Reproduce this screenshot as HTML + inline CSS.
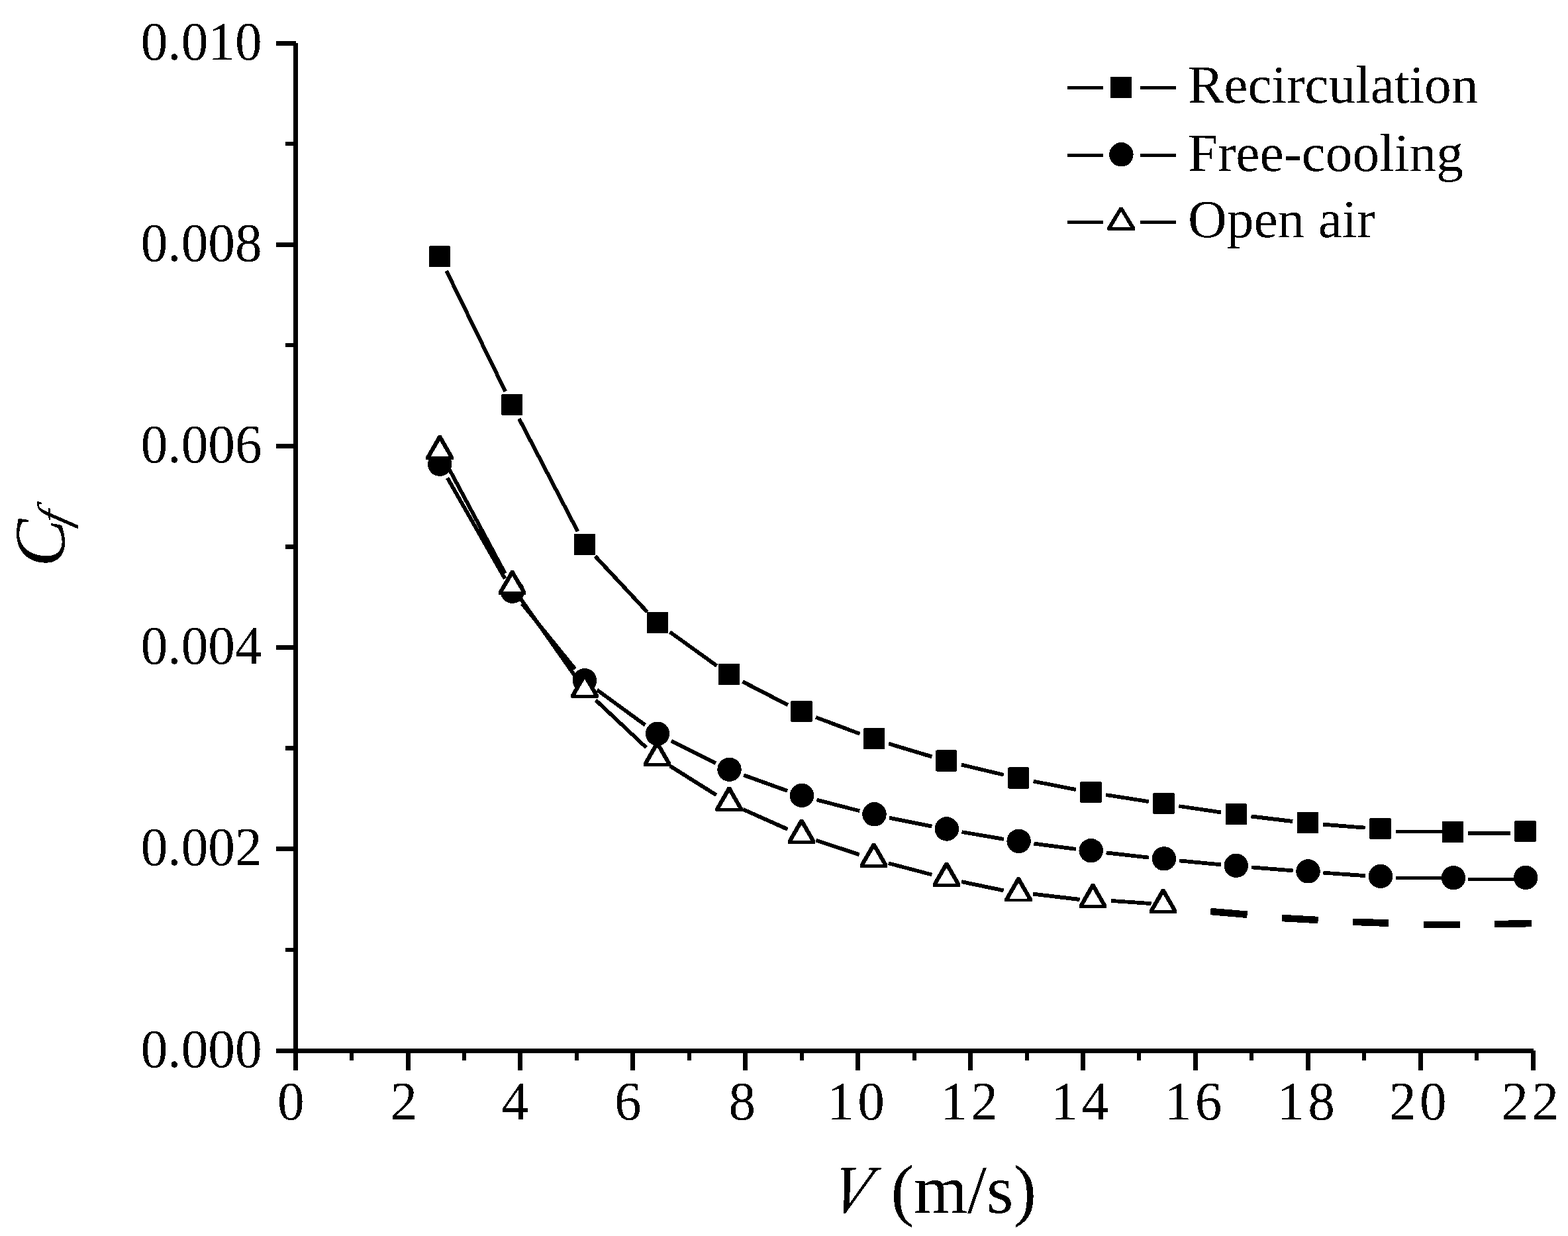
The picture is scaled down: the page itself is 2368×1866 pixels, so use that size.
<!DOCTYPE html>
<html lang="en"><head><meta charset="utf-8"><title>Cf versus V</title>
<style>
html,body{margin:0;padding:0;background:#fff;}
body{width:2368px;height:1866px;overflow:hidden;}
svg{display:block;}
text{font-family:"Liberation Serif","Times New Roman",serif;fill:#000;}
.tk{font-size:81.3px;}
.xl{letter-spacing:5.5px;}
.lg{font-size:81.4px;}
.tt{font-size:104px;}
.it{font-style:italic;}
</style></head><body>
<svg width="2368" height="1866" viewBox="0 0 2368 1866">
<defs><filter id="bw" filterUnits="userSpaceOnUse" x="0" y="0" width="2368" height="1866" color-interpolation-filters="sRGB"><feComponentTransfer><feFuncR type="discrete" tableValues="0 1"/><feFuncG type="discrete" tableValues="0 1"/><feFuncB type="discrete" tableValues="0 1"/></feComponentTransfer></filter></defs>
<g filter="url(#bw)">
<rect x="0" y="0" width="2368" height="1866" fill="#fff"/>
<g fill="#000" shape-rendering="crispEdges">
<rect x="443.3" y="65" width="6.8" height="1551"/>
<rect x="416.8" y="1583" width="1899" height="7"/>
<rect x="430.8" y="1431" width="14" height="6"/>
<rect x="416.8" y="1278" width="30" height="7"/>
<rect x="430.8" y="1126" width="14" height="7"/>
<rect x="416.8" y="974" width="30" height="7"/>
<rect x="430.8" y="822" width="14" height="7"/>
<rect x="416.8" y="670" width="30" height="7"/>
<rect x="430.8" y="518" width="14" height="6"/>
<rect x="416.8" y="366" width="30" height="7"/>
<rect x="430.8" y="214" width="14" height="6"/>
<rect x="416.8" y="62" width="30" height="7"/>
<rect x="528" y="1586" width="6" height="14.7"/>
<rect x="613" y="1586" width="7" height="29.8"/>
<rect x="698" y="1586" width="6" height="14.7"/>
<rect x="782" y="1586" width="7" height="29.8"/>
<rect x="868" y="1586" width="6" height="14.7"/>
<rect x="952" y="1586" width="7" height="29.8"/>
<rect x="1038" y="1586" width="6" height="14.7"/>
<rect x="1122" y="1586" width="7" height="29.8"/>
<rect x="1208" y="1586" width="6" height="14.7"/>
<rect x="1292" y="1586" width="7" height="29.8"/>
<rect x="1378" y="1586" width="6" height="14.7"/>
<rect x="1462" y="1586" width="7" height="29.8"/>
<rect x="1548" y="1586" width="6" height="14.7"/>
<rect x="1632" y="1586" width="7" height="29.8"/>
<rect x="1717" y="1586" width="6" height="14.7"/>
<rect x="1802" y="1586" width="7" height="29.8"/>
<rect x="1887" y="1586" width="6" height="14.7"/>
<rect x="1972" y="1586" width="7" height="29.8"/>
<rect x="2057" y="1586" width="6" height="14.7"/>
<rect x="2142" y="1586" width="7" height="29.8"/>
<rect x="2227" y="1586" width="6" height="14.7"/>
<rect x="2312" y="1586" width="7" height="29.8"/>
</g>
<g class="tk">
<text transform="translate(395.6,1610.5) scale(1,1.022)" text-anchor="end">0.000</text>
<text transform="translate(395.6,1306.3) scale(1,1.022)" text-anchor="end">0.002</text>
<text transform="translate(395.6,1002.1) scale(1,1.022)" text-anchor="end">0.004</text>
<text transform="translate(395.6,697.9) scale(1,1.022)" text-anchor="end">0.006</text>
<text transform="translate(395.6,393.7) scale(1,1.022)" text-anchor="end">0.008</text>
<text transform="translate(395.6,89.5) scale(1,1.022)" text-anchor="end">0.010</text>
<text class="xl" transform="translate(418.9,1689.5) scale(1,1.022)">0</text>
<text class="xl" transform="translate(589.6,1689.5) scale(1,1.022)">2</text>
<text class="xl" transform="translate(757.5,1689.5) scale(1,1.022)">4</text>
<text class="xl" transform="translate(928.0,1689.5) scale(1,1.022)">6</text>
<text class="xl" transform="translate(1100.4,1689.5) scale(1,1.022)">8</text>
<text class="xl" transform="translate(1249.2,1689.5) scale(1,1.022)">10</text>
<text class="xl" transform="translate(1420.2,1689.5) scale(1,1.022)">12</text>
<text class="xl" transform="translate(1587.3,1689.5) scale(1,1.022)">14</text>
<text class="xl" transform="translate(1758.7,1689.5) scale(1,1.022)">16</text>
<text class="xl" transform="translate(1929.1,1689.5) scale(1,1.022)">18</text>
<text class="xl" transform="translate(2097.9,1689.5) scale(1,1.022)">20</text>
<text class="xl" transform="translate(2267.4,1689.5) scale(1,1.022)">22</text>
</g>
<text class="tt it" transform="translate(1250.5,1830.9) skewX(-12.7) scale(0.89,1)">V</text>
<text class="tt" x="1345.6" y="1830.9">(m/s)</text>
<text class="it" font-size="108" transform="translate(96.8,855.7) rotate(-90)">C</text>
<text class="it" font-size="68" transform="translate(103.8,795.7) rotate(-90) skewX(-15)">f</text>
<g>
<path d="M674.1 408.7 L763.2 591.0 M783.9 632.1 L872.4 802.2 M898.7 839.4 L977.3 923.8 M1011.6 954.1 L1082.5 1005.2 M1121.6 1029.2 L1190.0 1064.3 M1232.0 1082.9 L1298.6 1107.9 M1342.1 1122.7 L1407.4 1142.4 M1451.8 1154.5 L1515.7 1169.7 M1560.7 1179.5 L1624.9 1192.1 M1670.2 1200.0 L1734.8 1210.1 M1780.3 1217.0 L1843.9 1226.4 M1889.5 1232.5 L1952.3 1240.0 M1998.0 1244.6 L2061.6 1249.7" fill="none" stroke="#000" stroke-width="5.8"/><path d="M2108.0 1254.9 L2178.0 1255.4 M2217.0 1257.9 L2281.0 1257.9" fill="none" stroke="#000" stroke-width="5"/>
<rect x="648.0" y="371.3" width="32" height="32" rx="1.2" fill="#000"/>
<rect x="757.3" y="595.0" width="32" height="32" rx="1.2" fill="#000"/>
<rect x="867.0" y="805.9" width="32" height="32" rx="1.2" fill="#000"/>
<rect x="977.0" y="923.9" width="32" height="32" rx="1.2" fill="#000"/>
<rect x="1085.1" y="1002.0" width="32" height="32" rx="1.2" fill="#000"/>
<rect x="1194.5" y="1058.1" width="32" height="32" rx="1.2" fill="#000"/>
<rect x="1304.1" y="1099.3" width="32" height="32" rx="1.2" fill="#000"/>
<rect x="1413.4" y="1132.4" width="32" height="32" rx="1.2" fill="#000"/>
<rect x="1522.1" y="1158.4" width="32" height="32" rx="1.2" fill="#000"/>
<rect x="1631.5" y="1179.8" width="32" height="32" rx="1.2" fill="#000"/>
<rect x="1741.5" y="1196.9" width="32" height="32" rx="1.2" fill="#000"/>
<rect x="1850.7" y="1213.1" width="32" height="32" rx="1.2" fill="#000"/>
<rect x="1959.1" y="1226.0" width="32" height="32" rx="1.2" fill="#000"/>
<rect x="2068.5" y="1234.9" width="32" height="32" rx="1.2" fill="#000"/>
<rect x="2178.0" y="1240.0" width="32" height="32" rx="1.2" fill="#000"/>
<rect x="2287.5" y="1238.9" width="32" height="32" rx="1.2" fill="#000"/>
</g>
<g>
<path d="M675.6 721.5 L762.5 873.5 M788.4 911.4 L868.5 1010.0 M901.6 1041.5 L974.4 1094.7 M1013.6 1118.6 L1080.9 1152.2 M1123.2 1170.3 L1189.3 1193.9 M1233.3 1207.5 L1298.2 1224.2 M1343.0 1234.6 L1407.3 1247.6 M1452.5 1256.0 L1515.9 1266.8 M1561.4 1273.6 L1624.9 1281.9 M1670.6 1287.4 L1735.0 1294.6 M1780.8 1299.3 L1843.9 1305.3 M1889.7 1309.3 L1952.6 1314.3 M1998.4 1317.7 L2062.1 1322.1" fill="none" stroke="#000" stroke-width="5.8"/><path d="M2108.0 1325.4 L2178.0 1325.4 M2217.0 1327.4 L2287.0 1327.4" fill="none" stroke="#000" stroke-width="5"/>
<circle cx="664.2" cy="700.8" r="18.2" fill="#000"/>
<circle cx="773.9" cy="892.8" r="18.2" fill="#000"/>
<circle cx="883.0" cy="1027.2" r="18.2" fill="#000"/>
<circle cx="993.0" cy="1107.6" r="18.2" fill="#000"/>
<circle cx="1101.5" cy="1161.8" r="18.2" fill="#000"/>
<circle cx="1211.0" cy="1201.0" r="18.2" fill="#000"/>
<circle cx="1320.5" cy="1229.3" r="18.2" fill="#000"/>
<circle cx="1429.8" cy="1251.5" r="18.2" fill="#000"/>
<circle cx="1538.6" cy="1269.9" r="18.2" fill="#000"/>
<circle cx="1647.7" cy="1284.2" r="18.2" fill="#000"/>
<circle cx="1757.9" cy="1296.4" r="18.2" fill="#000"/>
<circle cx="1866.8" cy="1306.8" r="18.2" fill="#000"/>
<circle cx="1975.5" cy="1315.4" r="18.2" fill="#000"/>
<circle cx="2085.0" cy="1323.0" r="18.2" fill="#000"/>
<circle cx="2195.0" cy="1325.3" r="18.2" fill="#000"/>
<circle cx="2304.1" cy="1325.0" r="18.2" fill="#000"/>
</g>
<g>
<path d="M675.1 702.1 L762.7 865.6 M786.8 904.7 L869.8 1022.5 M899.8 1057.1 L975.8 1128.5 M1012.1 1156.5 L1081.7 1200.3 M1122.2 1221.9 L1189.5 1252.0 M1232.3 1268.6 L1297.8 1290.2 M1341.8 1303.3 L1407.3 1320.5 M1452.0 1331.1 L1515.6 1344.4 M1560.1 1349.7 L1630.6 1358.0 M1677.7 1359.9 L1738.6 1364.1" fill="none" stroke="#000" stroke-width="5.8"/>
<polygon points="643.5,694.0 684.9,694.0 684.9,689.2 666.5,657.1 661.9,657.1 643.5,689.2" fill="#000"/><polygon points="650.5,689.2 677.9,689.2 664.2,665.7" fill="#fff"/>
<polygon points="752.9,898.1 794.3,898.1 794.3,893.3 775.9,861.2 771.3,861.2 752.9,893.3" fill="#000"/><polygon points="759.9,893.3 787.3,893.3 773.6,869.8" fill="#fff"/>
<polygon points="862.3,1053.5 903.7,1053.5 903.7,1048.7 885.3,1016.6 880.7,1016.6 862.3,1048.7" fill="#000"/><polygon points="869.3,1048.7 896.7,1048.7 883.0,1025.2" fill="#fff"/>
<polygon points="971.9,1156.5 1013.3,1156.5 1013.3,1151.7 994.9,1119.6 990.3,1119.6 971.9,1151.7" fill="#000"/><polygon points="978.9,1151.7 1006.3,1151.7 992.6,1128.2" fill="#fff"/>
<polygon points="1080.5,1224.7 1121.9,1224.7 1121.9,1219.9 1103.5,1187.8 1098.9,1187.8 1080.5,1219.9" fill="#000"/><polygon points="1087.5,1219.9 1114.9,1219.9 1101.2,1196.4" fill="#fff"/>
<polygon points="1189.8,1273.6 1231.2,1273.6 1231.2,1268.8 1212.8,1236.7 1208.2,1236.7 1189.8,1268.8" fill="#000"/><polygon points="1196.8,1268.8 1224.2,1268.8 1210.5,1245.3" fill="#fff"/>
<polygon points="1298.9,1309.6 1340.3,1309.6 1340.3,1304.8 1321.9,1272.7 1317.3,1272.7 1298.9,1304.8" fill="#000"/><polygon points="1305.9,1304.8 1333.3,1304.8 1319.6,1281.3" fill="#fff"/>
<polygon points="1408.8,1338.6 1450.2,1338.6 1450.2,1333.8 1431.8,1301.7 1427.2,1301.7 1408.8,1333.8" fill="#000"/><polygon points="1415.8,1333.8 1443.2,1333.8 1429.5,1310.3" fill="#fff"/>
<polygon points="1517.4,1361.3 1558.8,1361.3 1558.8,1356.5 1540.4,1324.4 1535.8,1324.4 1517.4,1356.5" fill="#000"/><polygon points="1524.4,1356.5 1551.8,1356.5 1538.1,1333.0" fill="#fff"/>
<polygon points="1629.8,1371.0 1671.2,1371.0 1671.2,1366.2 1652.8,1334.1 1648.2,1334.1 1629.8,1366.2" fill="#000"/><polygon points="1636.8,1366.2 1664.2,1366.2 1650.5,1342.7" fill="#fff"/>
<polygon points="1735.9,1378.7 1777.3,1378.7 1777.3,1373.9 1758.9,1341.8 1754.3,1341.8 1735.9,1373.9" fill="#000"/><polygon points="1742.9,1373.9 1770.3,1373.9 1756.6,1350.4" fill="#fff"/>
<path d="M1828.2 1376.0 L1883.6 1380.7" fill="none" stroke="#000" stroke-width="10.6"/>
<path d="M1936.2 1386.0 L1990.6 1389.0" fill="none" stroke="#000" stroke-width="10.6"/>
<path d="M2043.2 1391.8 L2097.0 1393.6" fill="none" stroke="#000" stroke-width="10.6"/>
<path d="M2150.0 1395.9 L2204.9 1395.9" fill="none" stroke="#000" stroke-width="10"/>
<path d="M2257.0 1395.3 L2313.1 1393.9" fill="none" stroke="#000" stroke-width="10.6"/>
</g>
<g>
<path d="M1612.3 132.4 L1666 132.4 M1722 132.4 L1776.3 132.4" fill="none" stroke="#000" stroke-width="5"/>
<rect x="1677.0" y="115.9" width="32" height="32" fill="#000"/>
<text class="lg" x="1794.0" y="155.4">Recirculation</text>
<path d="M1612.3 234.4 L1666 234.4 M1722 234.4 L1776.3 234.4" fill="none" stroke="#000" stroke-width="5"/>
<circle cx="1693.4" cy="233.3" r="18.2" fill="#000"/>
<text class="lg" x="1794.0" y="258.0">Free-cooling</text>
<path d="M1612.3 335.5 L1666 335.5 M1722 335.5 L1776.3 335.5" fill="none" stroke="#000" stroke-width="5"/>
<polygon points="1672.4,347.8 1713.8,347.8 1713.8,343.0 1695.4,312.9 1690.8,312.9 1672.4,343.0" fill="#000"/><polygon points="1679.4,343.0 1706.8,343.0 1693.1,319.5" fill="#fff"/>
<text class="lg" x="1794.0" y="358.4">Open air</text>
</g>
</g>
</svg>
</body></html>
